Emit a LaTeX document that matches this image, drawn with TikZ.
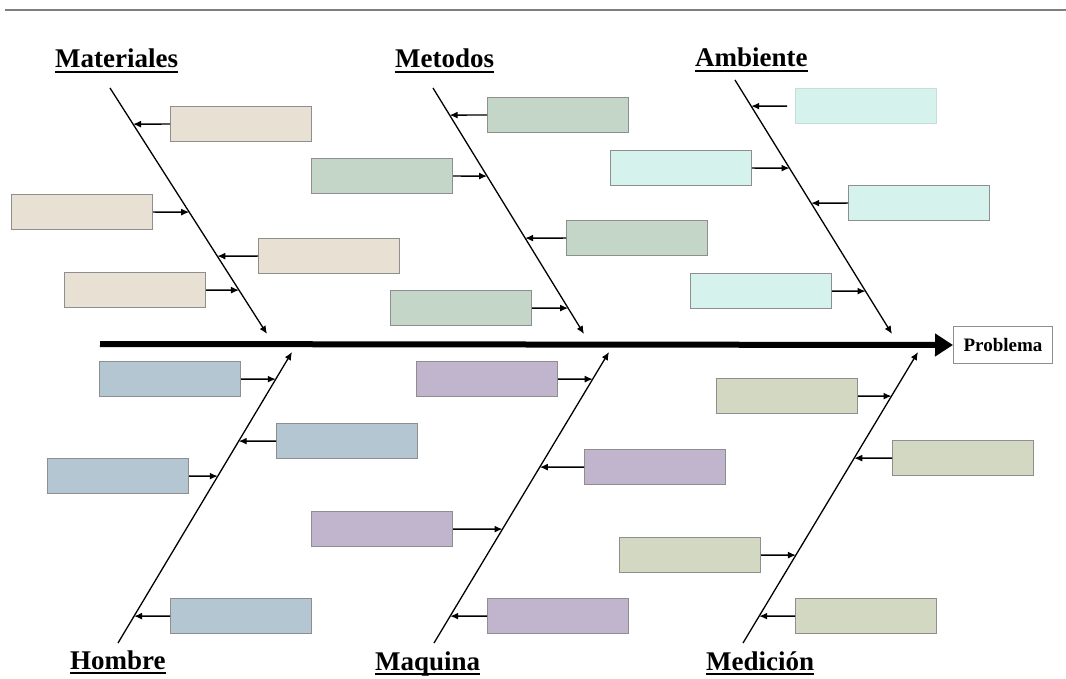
\documentclass[tikz,border=0pt]{standalone}
\usepackage{fontspec}
\setmainfont{Liberation Serif}
\usetikzlibrary{arrows.meta}
\definecolor{cbeige}{HTML}{E8E0D2}
\definecolor{cgreen}{HTML}{C3D6C8}
\definecolor{ccyan}{HTML}{D5F2EC}
\definecolor{cblue}{HTML}{B4C6D1}
\definecolor{clav}{HTML}{C0B5CC}
\definecolor{csage}{HTML}{D3D8C2}
\definecolor{cborder}{HTML}{8E8E8E}
\definecolor{clight}{HTML}{C9DDD8}
\definecolor{ctop}{HTML}{7F7F7F}
\newcommand\ulword[1]{\setbox0=\hbox{#1}\rlap{\rule[-5pt]{\wd0}{2pt}}\box0}
\tikzset{
  cbox/.style={draw=cborder, line width=1.2pt, minimum width=141pt, minimum height=35pt, inner sep=0pt, anchor=north west},
  bone/.style={line width=1.3pt, -{Latex[length=8pt,width=7pt]}},
  sub/.style={line width=1.3pt, -{Latex[length=8pt,width=7pt]}},
  cat/.style={anchor=base west, inner sep=0pt, font=\fontsize{27}{30}\selectfont\bfseries},
}
\begin{document}
\begin{tikzpicture}[x=1pt,y=-1pt]
\useasboundingbox (0,0) rectangle (1066,679);
% top rule
\coordinate (tl) at (5,10);
\coordinate (tr) at (1066,10);
\draw[ctop, line width=2pt] (tl) -- (tr);

% problem box and spine
\node[draw=cborder, line width=1pt, minimum width=99pt, minimum height=37pt, inner sep=0pt, anchor=north west,
      font=\fontsize{19}{22}\selectfont\bfseries] (prob) at (953,326) {Problema};
\coordinate (sp) at (100,344);
\draw[line width=6pt, -{Triangle[length=18pt,width=22pt]}] (sp) -- (prob.west);

% category labels
\node[cat] (lmat) at (55,68) {\ulword{Materiales}};
\node[cat] (lmet) at (395,68) {\ulword{Metodos}};
\node[cat] (lamb) at (695,67) {\ulword{Ambiente}};
\node[cat] (lhom) at (70,669) {\ulword{Hombre}};
\node[cat] (lmaq) at (375,670) {\ulword{Maquina}};
\node[cat] (lmed) at (706,670) {\ulword{Medición}};

% bones
\coordinate (mat-s) at (110,88);  \coordinate (mat-e) at (267,334);
\coordinate (met-s) at (433,88);  \coordinate (met-e) at (584,334);
\coordinate (amb-s) at (735,80);  \coordinate (amb-e) at (892,334);
\coordinate (hom-s) at (118,643); \coordinate (hom-e) at (292,352);
\coordinate (maq-s) at (434,643); \coordinate (maq-e) at (609,352);
\coordinate (med-s) at (743,643); \coordinate (med-e) at (918,352);
\foreach \b in {mat,met,amb,hom,maq,med}{
  \draw[bone] (\b-s) -- (\b-e);
}

% boxes: Materiales
\node[cbox, fill=cbeige] (mat1) at (170,106) {};
\node[cbox, fill=cbeige] (mat2) at (11,194) {};
\node[cbox, fill=cbeige] (mat3) at (258,238) {};
\node[cbox, fill=cbeige] (mat4) at (64,272) {};
% Metodos
\node[cbox, fill=cgreen] (met1) at (487,97) {};
\node[cbox, fill=cgreen] (met2) at (311,158) {};
\node[cbox, fill=cgreen] (met3) at (566,220) {};
\node[cbox, fill=cgreen] (met4) at (390,290) {};
% Ambiente
\node[cbox, fill=ccyan, draw=clight] (amb1) at (795,88) {};
\node[cbox, fill=ccyan] (amb2) at (610,150) {};
\node[cbox, fill=ccyan] (amb3) at (848,185) {};
\node[cbox, fill=ccyan] (amb4) at (690,273) {};
% Hombre
\node[cbox, fill=cblue] (hom1) at (99,361) {};
\node[cbox, fill=cblue] (hom2) at (276,423) {};
\node[cbox, fill=cblue] (hom3) at (47,458) {};
\node[cbox, fill=cblue] (hom4) at (170,598) {};
% Maquina
\node[cbox, fill=clav] (maq1) at (416,361) {};
\node[cbox, fill=clav] (maq2) at (584,449) {};
\node[cbox, fill=clav] (maq3) at (311,511) {};
\node[cbox, fill=clav] (maq4) at (487,598) {};
% Medicion
\node[cbox, fill=csage] (med1) at (716,378) {};
\node[cbox, fill=csage] (med2) at (892,440) {};
\node[cbox, fill=csage] (med3) at (619,537) {};
\node[cbox, fill=csage] (med4) at (795,598) {};

% sub-cause arrows (box side facing the bone -> bone)
\foreach \b/\i/\s in {mat/1/west,mat/2/east,mat/3/west,mat/4/east,
                      met/1/west,met/2/east,met/3/west,met/4/east,
                      amb/2/east,amb/3/west,amb/4/east,
                      hom/1/east,hom/2/west,hom/3/east,hom/4/west,
                      maq/1/east,maq/2/west,maq/3/east,maq/4/west,
                      med/1/east,med/2/west,med/3/east,med/4/west}{
  \draw[sub] (\b\i.\s) -- (intersection cs:first line={(\b-s)--(\b-e)}, second line={(\b\i.west)--(\b\i.east)});
}
\draw[sub, shorten <=8pt] (amb1.west) -- (intersection cs:first line={(amb-s)--(amb-e)}, second line={(amb1.west)--(amb1.east)});
\end{tikzpicture}
\end{document}
